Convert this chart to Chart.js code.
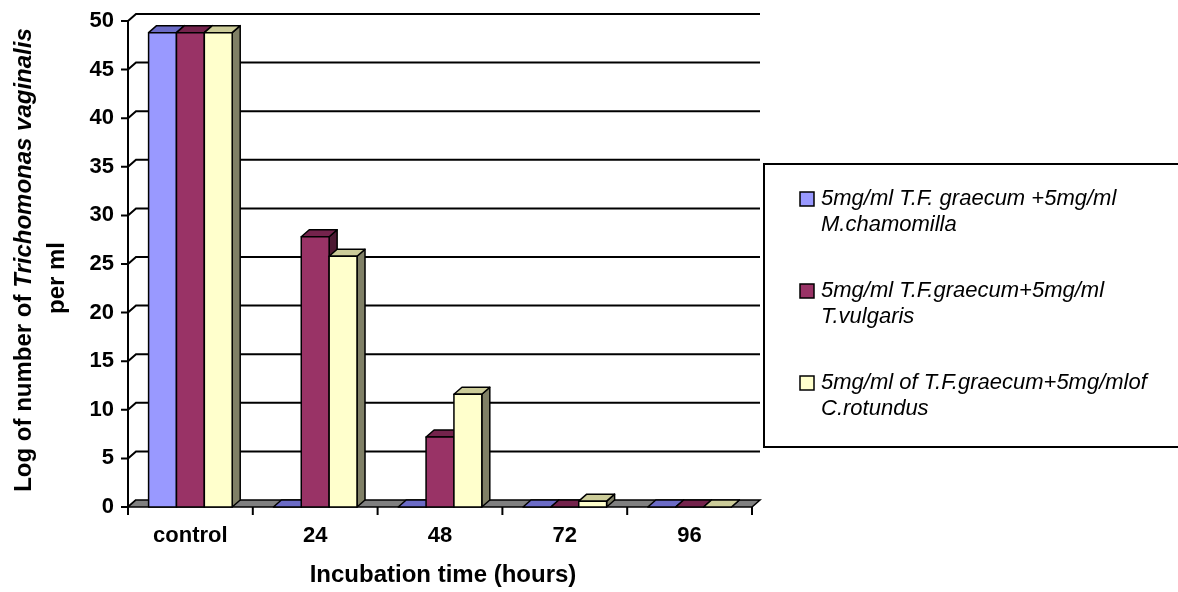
<!DOCTYPE html>
<html>
<head>
<meta charset="utf-8">
<script src="https://cdn.jsdelivr.net/npm/chart.js@4.4.0/dist/chart.umd.min.js"></script>
<style>
  html, body { margin: 0; padding: 0; background: #fff; }
  #wrap { width: 1178px; height: 592px; }
</style>
</head>
<body>
<div id="wrap"><canvas id="trichChart" width="1178" height="592"></canvas></div>
<script>
// data
const categories = ['control', '24', '48', '72', '96'];
const chamomilla = [48.8, 0, 0, 0, 0];
const vulgaris   = [48.8, 27.8, 7.2, 0, 0];
const rotundus   = [48.8, 25.8, 11.6, 0.6, 0];
const seriesNames = [
    ['5mg/ml T.F. graecum +5mg/ml', 'M.chamomilla'],
    ['5mg/ml T.F.graecum+5mg/ml', 'T.vulgaris'],
    ['5mg/ml of T.F.graecum+5mg/mlof', 'C.rotundus']
];
const yMin = 0, yMax = 50, yStep = 5;

// excel-ish 3d shading: front, top, side
const shades = [
    ['#9999ff', '#6b6bc6', '#4d4d80'],
    ['#993366', '#74234c', '#4d1933'],
    ['#ffffcc', '#cccc99', '#808066']
];
const DX = 8, DY = -7;   // depth offset of the 3d look
const FONT = '"Liberation Sans", Arial, sans-serif';

function box(ctx, x0, x1, yTop, yBase, c) {
    ctx.lineWidth = 1.5;
    ctx.strokeStyle = '#000';
    ctx.lineJoin = 'round';
    // side
    ctx.beginPath();
    ctx.moveTo(x1, yTop);
    ctx.lineTo(x1 + DX, yTop + DY);
    ctx.lineTo(x1 + DX, yBase + DY);
    ctx.lineTo(x1, yBase);
    ctx.closePath();
    ctx.fillStyle = c[2];
    ctx.fill(); ctx.stroke();
    // top
    ctx.beginPath();
    ctx.moveTo(x0, yTop);
    ctx.lineTo(x0 + DX, yTop + DY);
    ctx.lineTo(x1 + DX, yTop + DY);
    ctx.lineTo(x1, yTop);
    ctx.closePath();
    ctx.fillStyle = c[1];
    ctx.fill(); ctx.stroke();
    // front
    if (yBase - yTop > 0.5) {
        ctx.fillStyle = c[0];
        ctx.fillRect(x0, yTop, x1 - x0, yBase - yTop);
        ctx.strokeRect(x0, yTop, x1 - x0, yBase - yTop);
    }
}

const threeD = {
    id: 'threeD',
    beforeDatasetsDraw: (chart) => {
        const { ctx, chartArea: a, scales } = chart;
        const ys = scales.y;
        ctx.save();
        ctx.strokeStyle = '#000';
        ctx.lineWidth = 2;
        // back wall grid + connectors + ticks
        for (let v = yMin; v <= yMax; v += yStep) {
            const y = ys.getPixelForValue(v);
            ctx.beginPath();
            ctx.moveTo(a.left - 7, y);
            ctx.lineTo(a.left, y);
            ctx.lineTo(a.left + DX, y + DY);
            if (v > yMin) ctx.lineTo(a.right + DX, y + DY);
            ctx.stroke();
        }
        // front axis line
        ctx.beginPath();
        ctx.moveTo(a.left, ys.getPixelForValue(yMax));
        ctx.lineTo(a.left, a.bottom + 8);
        ctx.stroke();
        // floor
        ctx.lineWidth = 1.5;
        ctx.beginPath();
        ctx.moveTo(a.left, a.bottom);
        ctx.lineTo(a.right, a.bottom);
        ctx.lineTo(a.right + DX, a.bottom + DY);
        ctx.lineTo(a.left + DX, a.bottom + DY);
        ctx.closePath();
        ctx.fillStyle = '#808080';
        ctx.fill(); ctx.stroke();
        // x ticks
        ctx.lineWidth = 2;
        const n = categories.length;
        for (let i = 0; i <= n; i++) {
            const x = a.left + (a.right - a.left) * i / n;
            ctx.beginPath();
            ctx.moveTo(x, a.bottom);
            ctx.lineTo(x, a.bottom + 8);
            ctx.stroke();
        }
        // bars, cluster by cluster so the sides overlap right
        for (let i = 0; i < n; i++) {
            chart.data.datasets.forEach((ds, d) => {
                const el = chart.getDatasetMeta(d).data[i];
                box(ctx, el.x - el.width / 2, el.x + el.width / 2, el.y, el.base, shades[d]);
            });
        }
        ctx.restore();
        return false;
    },
    afterDraw: (chart) => {
        const { ctx } = chart;
        ctx.save();
        ctx.fillStyle = '#000';
        // y title
        ctx.translate(24, 260);
        ctx.rotate(-Math.PI / 2);
        ctx.textBaseline = 'middle';
        const p1 = 'Log of number of ', p2 = 'Trichomonas vaginalis';
        ctx.font = 'bold 24px ' + FONT;
        const w1 = ctx.measureText(p1).width;
        ctx.font = 'italic bold 24px ' + FONT;
        const w2 = ctx.measureText(p2).width;
        let x = -(w1 + w2) / 2;
        ctx.font = 'bold 24px ' + FONT;
        ctx.fillText(p1, x, 0);
        ctx.font = 'italic bold 24px ' + FONT;
        ctx.fillText(p2, x + w1, 0);
        ctx.textAlign = 'center';
        ctx.font = 'bold 24px ' + FONT;
        ctx.fillText('per ml', -18, 33);
        ctx.restore();

        // x title
        ctx.save();
        ctx.font = 'bold 24px ' + FONT;
        ctx.textAlign = 'center';
        ctx.textBaseline = 'middle';
        ctx.fillStyle = '#000';
        ctx.fillText('Incubation time (hours)', 443, 575);

        // legend box
        ctx.lineWidth = 2;
        ctx.strokeStyle = '#000';
        ctx.strokeRect(764, 164, 430, 283);
        ctx.font = 'italic 22px ' + FONT;
        ctx.textAlign = 'left';
        seriesNames.forEach((lines, d) => {
            const y0 = 199 + d * 92;
            ctx.fillStyle = shades[d][0];
            ctx.fillRect(800, y0 - 7, 14, 14);
            ctx.lineWidth = 1.5;
            ctx.strokeRect(800, y0 - 7, 14, 14);
            ctx.fillStyle = '#000';
            lines.forEach((t, k) => ctx.fillText(t, 821, y0 + k * 26));
        });
        ctx.restore();
    }
};

const ctx = document.getElementById('trichChart').getContext('2d');
const trichChart = new Chart(ctx, {
    type: 'bar',
    data: {
        labels: categories,
        datasets: [chamomilla, vulgaris, rotundus].map((vals, d) => ({
            label: seriesNames[d].join(' '),
            data: vals,
            backgroundColor: shades[d][0],
            borderColor: '#000',
            borderWidth: 1,
            barPercentage: 1.0,
            categoryPercentage: 0.67
        }))
    },
    options: {
        responsive: false,
        animation: false,
        layout: { padding: { top: 21, right: 426, left: 0, bottom: 0 } },
        scales: {
            x: {
                grid: { display: false, drawTicks: false },
                border: { display: false },
                ticks: { color: '#000', padding: 16, font: { size: 22, weight: 'bold', family: FONT } },
                afterFit: (s) => { s.height = 85; s.paddingLeft = 0; s.paddingRight = 0; }
            },
            y: {
                min: yMin,
                max: yMax,
                grid: { display: false, drawTicks: false },
                border: { display: false },
                ticks: { stepSize: yStep, color: '#000', padding: 14, font: { size: 22, weight: 'bold', family: FONT } },
                afterFit: (s) => { s.width = 128; s.paddingTop = 0; s.paddingBottom = 0; }
            }
        },
        plugins: {
            legend: { display: false },
            tooltip: { enabled: false }
        }
    },
    plugins: [threeD]
});
</script>
</body>
</html>
